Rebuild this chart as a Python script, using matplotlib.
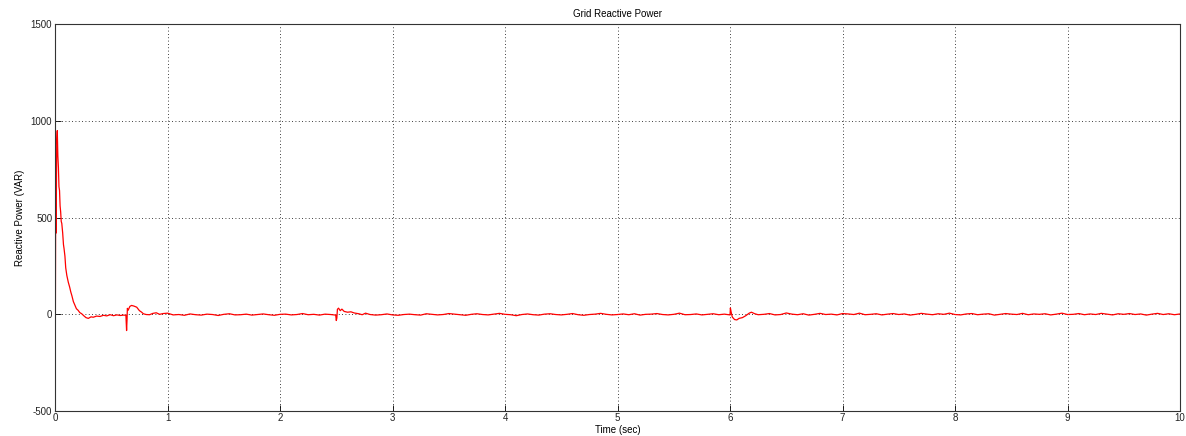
import numpy as np
import matplotlib
matplotlib.use("Agg")
import matplotlib.pyplot as plt

# Einschwingvorgang am Anfang (Zeit in s, Blindleistung in VAR)
t_start = [0.000, 0.003, 0.006, 0.010, 0.015, 0.020, 0.025, 0.030, 0.035, 0.040,
           0.045, 0.050, 0.055, 0.060, 0.068, 0.075, 0.080, 0.088, 0.095, 0.105,
           0.118, 0.130, 0.140, 0.150, 0.163, 0.175, 0.190, 0.205, 0.220, 0.237,
           0.255, 0.275, 0.296, 0.320, 0.340, 0.370, 0.400, 0.430, 0.460, 0.490,
           0.520, 0.550, 0.580, 0.610, 0.630, 0.636, 0.640, 0.643, 0.650, 0.665,
           0.680, 0.700, 0.726, 0.750, 0.770, 0.785, 0.810, 0.840, 0.870, 0.900,
           0.930, 0.960, 1.000]
q_start = [-60, -20, 650, 420, 900, 950, 820, 760, 660, 640,
           560, 530, 480, 470, 420, 360, 340, 300, 240, 200,
           165, 140, 115, 95, 65, 48, 28, 20, 8, 2,
           -8, -18, -22, -14, -16, -10, -12, -6, -9, -3,
           -8, -4, -7, -5, -6, -85, -30, 30, 20, 40,
           45, 42, 36, 18, 10, 2, -2, -3, 4, 7,
           -1, 3, 5]

# Rauschen zwischen 1 s und 2.5 s
q_seg_a = [-4, -2, -6, 1, -3, -5, 0, -2, -7, -1, 2, -4, -3, 0, -5,
           -2, 1, -3, -6, -1, 0, -4, -2, 3, -3, -1, -5, 0, -2]

# Störung bei 2.5 s
t_ev1 = [2.495, 2.500, 2.505, 2.510, 2.520, 2.535, 2.550, 2.570, 2.600,
         2.630, 2.660, 2.700, 2.730, 2.760]
q_ev1 = [-5, -33, -20, 25, 31, 18, 26, 14, 10, 12, 6, 2, -3, 5]

# Rauschen zwischen 2.8 s und 6 s
q_seg_b = [-2, -5, -3, 1, -4, -6, -2, 0, -3, -5, 2, -1, -4, -2, 3, 0,
           -3, -6, -1, 2, -2, -4, 0, 4, -1, -3, -8, -2, 1, -3, -5, 0,
           2, -2, -4, -1, 3, -3, -6, -2, 0, 4, -1, -4, -2, 1, -3, 2,
           -5, -1, 0, 3, -2, -4, -1, 5, -3, -2, 1, -4, -1, 2, -3, 0]

# Störung bei 6 s
t_ev2 = [6.000, 6.003, 6.010, 6.020, 6.040, 6.060, 6.080, 6.110, 6.140,
         6.170, 6.190, 6.220, 6.250]
q_ev2 = [-4, 32, 10, -15, -28, -30, -22, -18, -8, 5, 10, 2, -3]

# Rauschen zwischen 6.3 s und 10 s
q_seg_c = [-1, 3, -4, -2, 6, 0, -3, 2, -5, -1, 4, -2, 0, -4, 3, 1,
           -2, 5, -3, -1, 2, -4, 0, 3, -2, 1, -5, -1, 4, 0, -3, 2,
           -1, 5, -2, -4, 1, 3, -3, 0, 2, -5, -1, 3, 0, -2, 4, -3,
           1, -1, 2, -4, 0, 5, -2, -1, 3, -3, 1, -2, 4, 0, -4, 2,
           -1, 3, -2, 1, -5, 0, 4, -2, 2, -3, 1]

t_a = 1.05 + 0.05 * np.arange(len(q_seg_a))
t_b = 2.80 + 0.05 * np.arange(len(q_seg_b))
t_c = 6.30 + 0.05 * np.arange(len(q_seg_c))

t = np.concatenate([t_start, t_a, t_ev1, t_b, t_ev2, t_c])
q = np.concatenate([q_start, q_seg_a, q_ev1, q_seg_b, q_ev2, q_seg_c])
mask = t <= 10.0
t, q = t[mask], q[mask]

plt.rcParams["font.family"] = ["Liberation Sans", "DejaVu Sans"]
plt.rcParams["font.size"] = 7
plt.rcParams["axes.unicode_minus"] = False

fig = plt.figure(figsize=(11.86, 4.36), dpi=100)
ax = fig.add_axes([0.0464, 0.058, 0.9486, 0.886])

ax.plot(t, q, color="red", linewidth=0.9)

ax.set_xlim(0, 10)
ax.set_ylim(-500, 1500)
ax.set_xticks(range(0, 11))
ax.set_yticks([-500, 0, 500, 1000, 1500])
ax.grid(True, color="black", linestyle=(0, (1, 3)), linewidth=0.6)
ax.tick_params(direction="in", length=4, width=0.6, labelsize=7, pad=2,
               labelcolor="#222222")
for s in ax.spines.values():
    s.set_linewidth(0.8)
    s.set_color("#333333")

ax.set_title("Grid Reactive Power", fontsize=7, pad=5)
ax.set_xlabel("Time (sec)", fontsize=7, labelpad=1)
ax.set_ylabel("Reactive Power (VAR)", fontsize=7, labelpad=4)

fig.savefig("out.png", dpi=100)
